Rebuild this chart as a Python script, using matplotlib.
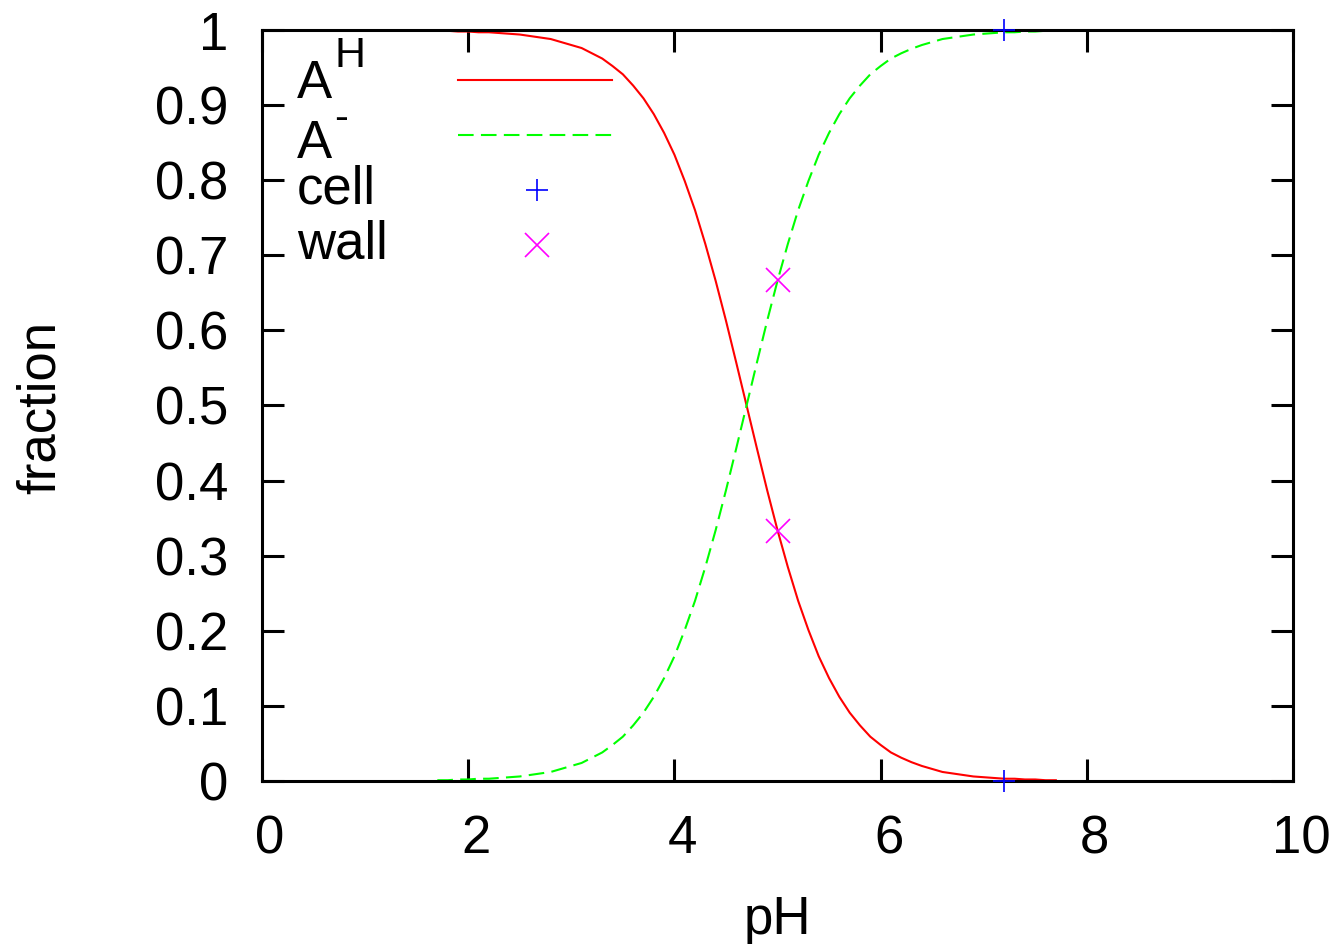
import matplotlib
matplotlib.use("Agg")
import matplotlib.pyplot as plt
from matplotlib.transforms import ScaledTranslation

plt.rcParams["font.family"] = ["Liberation Sans", "DejaVu Sans"]

# fraction curves
ph = [1.7, 1.8, 1.9, 2.0, 2.1, 2.2, 2.3, 2.4, 2.5, 2.6, 2.7, 2.8, 2.9, 3.0,
      3.1, 3.2, 3.3, 3.4, 3.5, 3.6, 3.7, 3.8, 3.9, 4.0, 4.1, 4.2, 4.3, 4.4,
      4.5, 4.6, 4.7, 4.8, 4.9, 5.0, 5.1, 5.2, 5.3, 5.4, 5.5, 5.6, 5.7, 5.8,
      5.9, 6.0, 6.1, 6.2, 6.3, 6.4, 6.5, 6.6, 6.7, 6.8, 6.9, 7.0, 7.1, 7.2,
      7.3, 7.4, 7.5, 7.6, 7.7]
frac_ah = [0.999, 0.999, 0.998, 0.998, 0.997, 0.997, 0.996, 0.995, 0.994,
           0.992, 0.990, 0.988, 0.984, 0.980, 0.976, 0.969, 0.962, 0.952,
           0.941, 0.926, 0.909, 0.888, 0.863, 0.834, 0.799, 0.760, 0.715,
           0.666, 0.613, 0.557, 0.500, 0.443, 0.387, 0.334, 0.285, 0.240,
           0.201, 0.166, 0.137, 0.112, 0.091, 0.074, 0.059, 0.048, 0.038,
           0.031, 0.025, 0.020, 0.016, 0.012, 0.010, 0.008, 0.006, 0.005,
           0.004, 0.003, 0.003, 0.002, 0.002, 0.001, 0.001]
frac_a = [0.001, 0.001, 0.002, 0.002, 0.003, 0.003, 0.004, 0.005, 0.006,
          0.008, 0.010, 0.012, 0.016, 0.020, 0.024, 0.031, 0.038, 0.048,
          0.059, 0.074, 0.091, 0.112, 0.137, 0.166, 0.201, 0.240, 0.285,
          0.334, 0.387, 0.443, 0.500, 0.557, 0.613, 0.666, 0.715, 0.760,
          0.799, 0.834, 0.863, 0.888, 0.909, 0.926, 0.941, 0.952, 0.962,
          0.969, 0.975, 0.980, 0.984, 0.988, 0.990, 0.992, 0.994, 0.995,
          0.996, 0.997, 0.997, 0.998, 0.998, 0.999, 0.999]

cell_ph = [7.2, 7.2]
cell_frac = [1.0, 0.0]
wall_ph = [5.0, 5.0]
wall_frac = [0.667, 0.333]

xticks = [0, 2, 4, 6, 8, 10]
yticks = [0, 0.1, 0.2, 0.3, 0.4, 0.5, 0.6, 0.7, 0.8, 0.9, 1]
ytick_labels = ["0", "0.1", "0.2", "0.3", "0.4", "0.5", "0.6", "0.7", "0.8", "0.9", "1"]

RED, GREEN, BLUE, MAGENTA = "#ff0000", "#00ff00", "#0000ff", "#ff00ff"
FS = 38
DASH = (0, (7.5, 3.5))

fig = plt.figure(figsize=(13.35, 9.44), dpi=100)
ax = fig.add_axes([0.1963, 0.1727, 0.7722, 0.7955])

ax.plot(ph, frac_ah, color=RED, lw=1.5)
ax.plot(ph, frac_a, color=GREEN, lw=1.5, linestyle=DASH)
ax.plot(cell_ph, cell_frac, linestyle="none", marker="+", ms=16.5, mew=1.2,
        color=BLUE, clip_on=False, zorder=5)
ax.plot(wall_ph, wall_frac, linestyle="none", marker="x", ms=17, mew=1.2,
        color=MAGENTA, clip_on=False, zorder=5)

ax.set_xlim(0, 10)
ax.set_ylim(0, 1)
ax.set_xticks(xticks)
ax.set_yticks(yticks)
ax.set_yticklabels(ytick_labels)
ax.tick_params(direction="in", length=16, width=2.2, top=True, right=True,
               labelsize=FS, pad=24)
for sp in ax.spines.values():
    sp.set_linewidth(2.2)

# gnuplot puts the x labels a touch right of the tick
shift = ScaledTranslation(0.08, 0, fig.dpi_scale_trans)
for lab in ax.get_xticklabels():
    lab.set_transform(lab.get_transform() + shift)

ax.set_xlabel("pH", fontsize=FS, labelpad=22)
ax.set_ylabel("fraction", fontsize=FS)
ax.yaxis.set_label_coords(-0.190, 0.497)

# gnuplot-style key: text on the left, sample on the right
tx, lx0, lx1, mx = 0.034, 0.190, 0.3395, 0.267
rows = [0.933, 0.860, 0.787, 0.714]
t = ax.transAxes
ax.text(tx, rows[0] - 0.005, "A", fontsize=FS, transform=t, va="center", ha="left")
ax.text(tx + 0.036, rows[0] + 0.032, "H", fontsize=31, transform=t, va="center", ha="left")
ax.text(tx, rows[1] - 0.012, "A", fontsize=FS, transform=t, va="center", ha="left")
ax.text(tx + 0.036, rows[1] + 0.022, "-", fontsize=30, transform=t, va="center", ha="left")
ax.text(tx, rows[2], "cell", fontsize=FS, transform=t, va="center", ha="left")
ax.text(tx, rows[3], "wall", fontsize=FS, transform=t, va="center", ha="left")
ax.plot([lx0, lx1], [rows[0], rows[0]], color=RED, lw=1.5, transform=t)
ax.plot([lx0, lx1], [rows[1], rows[1]], color=GREEN, lw=1.5, linestyle=DASH, transform=t)
ax.plot([mx], [rows[2]], marker="+", ms=16.5, mew=1.2, color=BLUE, transform=t)
ax.plot([mx], [rows[3]], marker="x", ms=17, mew=1.2, color=MAGENTA, transform=t)

fig.savefig("out.png", dpi=100)
